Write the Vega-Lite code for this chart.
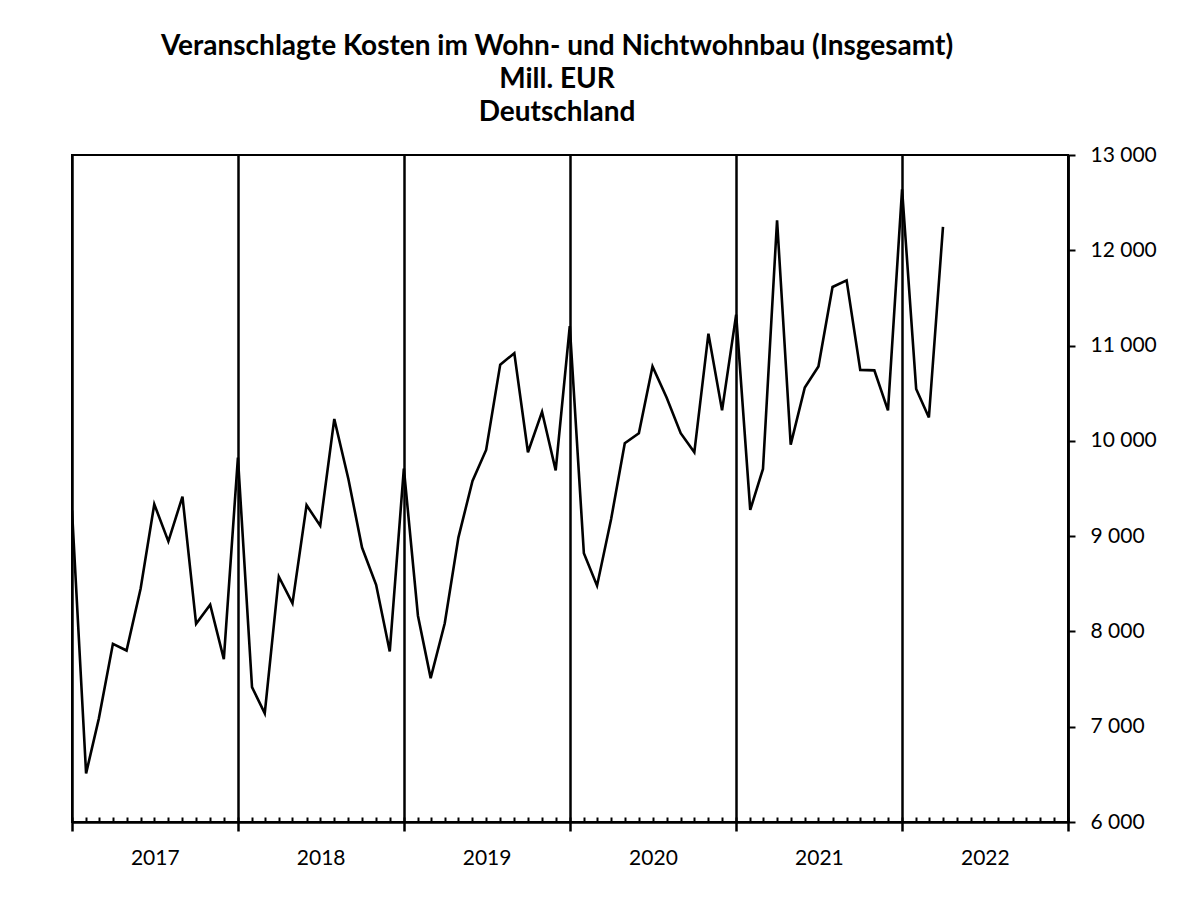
{
  "$schema": "https://vega.github.io/schema/vega-lite/v6.json",
  "width": 996,
  "height": 667,
  "autosize": {"type": "none"},
  "padding": {"left": 72, "top": 155, "right": 110, "bottom": 99},
  "background": "white",
  "title": {
    "text": ["Veranschlagte Kosten im Wohn- und Nichtwohnbau (Insgesamt)", "Mill. EUR", "Deutschland"],
    "font": "Lato",
    "fontSize": 28,
    "fontWeight": "bold",
    "color": "black",
    "lineHeight": 33,
    "anchor": "middle",
    "baseline": "alphabetic",
    "dx": -13,
    "offset": -5
  },
  "config": {
    "view": {"stroke": "black", "strokeWidth": 2},
    "font": "Lato"
  },
  "data": {
    "values": [
      {"monat": "2017-01-01", "wert": 9270},
      {"monat": "2017-02-01", "wert": 6510},
      {"monat": "2017-03-01", "wert": 7085},
      {"monat": "2017-04-01", "wert": 7870},
      {"monat": "2017-05-01", "wert": 7800},
      {"monat": "2017-06-01", "wert": 8450},
      {"monat": "2017-07-01", "wert": 9335},
      {"monat": "2017-08-01", "wert": 8945},
      {"monat": "2017-09-01", "wert": 9415},
      {"monat": "2017-10-01", "wert": 8080},
      {"monat": "2017-11-01", "wert": 8280},
      {"monat": "2017-12-01", "wert": 7710},
      {"monat": "2018-01-01", "wert": 9825},
      {"monat": "2018-02-01", "wert": 7415},
      {"monat": "2018-03-01", "wert": 7140},
      {"monat": "2018-04-01", "wert": 8575},
      {"monat": "2018-05-01", "wert": 8295},
      {"monat": "2018-06-01", "wert": 9325},
      {"monat": "2018-07-01", "wert": 9110},
      {"monat": "2018-08-01", "wert": 10230},
      {"monat": "2018-09-01", "wert": 9600},
      {"monat": "2018-10-01", "wert": 8880},
      {"monat": "2018-11-01", "wert": 8490},
      {"monat": "2018-12-01", "wert": 7790},
      {"monat": "2019-01-01", "wert": 9710},
      {"monat": "2019-02-01", "wert": 8165},
      {"monat": "2019-03-01", "wert": 7510},
      {"monat": "2019-04-01", "wert": 8085},
      {"monat": "2019-05-01", "wert": 8985},
      {"monat": "2019-06-01", "wert": 9580},
      {"monat": "2019-07-01", "wert": 9905},
      {"monat": "2019-08-01", "wert": 10800},
      {"monat": "2019-09-01", "wert": 10920},
      {"monat": "2019-10-01", "wert": 9880},
      {"monat": "2019-11-01", "wert": 10305},
      {"monat": "2019-12-01", "wert": 9690},
      {"monat": "2020-01-01", "wert": 11205},
      {"monat": "2020-02-01", "wert": 8820},
      {"monat": "2020-03-01", "wert": 8480},
      {"monat": "2020-04-01", "wert": 9180},
      {"monat": "2020-05-01", "wert": 9975},
      {"monat": "2020-06-01", "wert": 10080},
      {"monat": "2020-07-01", "wert": 10780},
      {"monat": "2020-08-01", "wert": 10455},
      {"monat": "2020-09-01", "wert": 10080},
      {"monat": "2020-10-01", "wert": 9880},
      {"monat": "2020-11-01", "wert": 11125},
      {"monat": "2020-12-01", "wert": 10320},
      {"monat": "2021-01-01", "wert": 11325},
      {"monat": "2021-02-01", "wert": 9275},
      {"monat": "2021-03-01", "wert": 9705},
      {"monat": "2021-04-01", "wert": 12315},
      {"monat": "2021-05-01", "wert": 9960},
      {"monat": "2021-06-01", "wert": 10560},
      {"monat": "2021-07-01", "wert": 10780},
      {"monat": "2021-08-01", "wert": 11615},
      {"monat": "2021-09-01", "wert": 11685},
      {"monat": "2021-10-01", "wert": 10745},
      {"monat": "2021-11-01", "wert": 10740},
      {"monat": "2021-12-01", "wert": 10320},
      {"monat": "2022-01-01", "wert": 12640},
      {"monat": "2022-02-01", "wert": 10545},
      {"monat": "2022-03-01", "wert": 10245},
      {"monat": "2022-04-01", "wert": 12245}
    ]
  },
  "encoding": {
    "x": {
      "field": "monat",
      "type": "temporal",
      "scale": {
        "type": "utc",
        "domain": [
          {"year": 2017, "month": 1, "date": 1, "utc": true},
          {"year": 2023, "month": 1, "date": 1, "utc": true}
        ]
      }
    },
    "y": {
      "field": "wert",
      "type": "quantitative",
      "scale": {"domain": [6000, 13000], "nice": false, "zero": false}
    }
  },
  "resolve": {"axis": {"x": "independent", "y": "independent"}},
  "layer": [
    {
      "mark": {"type": "line", "color": "black", "strokeWidth": 2.6, "strokeJoin": "miter", "clip": true},
      "encoding": {
        "x": {
          "field": "monat",
          "type": "temporal",
          "axis": {
            "orient": "bottom",
            "title": null,
            "labels": false,
            "values": [
              {"year": 2017, "month": 1, "date": 1, "utc": true},
              {"year": 2018, "month": 1, "date": 1, "utc": true},
              {"year": 2019, "month": 1, "date": 1, "utc": true},
              {"year": 2020, "month": 1, "date": 1, "utc": true},
              {"year": 2021, "month": 1, "date": 1, "utc": true},
              {"year": 2022, "month": 1, "date": 1, "utc": true},
              {"year": 2023, "month": 1, "date": 1, "utc": true}
            ],
            "tickSize": 9,
            "tickWidth": 2.5,
            "tickColor": "black",
            "domain": true,
            "domainColor": "black",
            "domainWidth": 2.5,
            "grid": true,
            "gridColor": "black",
            "gridWidth": 2.5,
            "gridOpacity": 1
          }
        },
        "y": {
          "field": "wert",
          "type": "quantitative",
          "axis": {
            "orient": "right",
            "title": null,
            "values": [6000, 7000, 8000, 9000, 10000, 11000, 12000, 13000],
            "labelExpr": "replace(format(datum.value, ','), ',', ' ')",
            "labelFont": "Lato",
            "labelFontSize": 21,
            "labelColor": "black",
            "labelPadding": 15,
            "labelAlign": "left",
            "labelBaseline": "middle",
            "tickSize": 7,
            "tickWidth": 2,
            "tickColor": "black",
            "domainColor": "black",
            "domainWidth": 2.5,
            "grid": false
          }
        }
      }
    },
    {
      "mark": {"type": "line", "strokeOpacity": 0},
      "encoding": {
        "x": {
          "field": "monat",
          "type": "temporal",
          "axis": {
            "orient": "bottom",
            "title": null,
            "labels": false,
            "domain": false,
            "grid": false,
            "tickCount": {"interval": "month", "step": 1},
            "tickSize": -5,
            "tickWidth": 2,
            "tickColor": "black"
          }
        },
        "y": {"field": "wert", "type": "quantitative", "axis": null}
      }
    },
    {
      "mark": {"type": "line", "strokeOpacity": 0},
      "encoding": {
        "x": {
          "field": "monat",
          "type": "temporal",
          "axis": {
            "orient": "bottom",
            "title": null,
            "domain": false,
            "grid": false,
            "ticks": false,
            "tickSize": 0,
            "values": [
              {"year": 2017, "month": 7, "date": 2, "utc": true},
              {"year": 2018, "month": 7, "date": 2, "utc": true},
              {"year": 2019, "month": 7, "date": 2, "utc": true},
              {"year": 2020, "month": 7, "date": 2, "utc": true},
              {"year": 2021, "month": 7, "date": 2, "utc": true},
              {"year": 2022, "month": 7, "date": 2, "utc": true}
            ],
            "labelExpr": "utcFormat(datum.value, '%Y')",
            "labelFont": "Lato",
            "labelFontSize": 21,
            "labelColor": "black",
            "labelBaseline": "alphabetic",
            "labelAlign": "center",
            "labelPadding": 42,
            "labelFlush": false,
            "labelOverlap": false
          }
        },
        "y": {"field": "wert", "type": "quantitative", "axis": null}
      }
    }
  ]
}
